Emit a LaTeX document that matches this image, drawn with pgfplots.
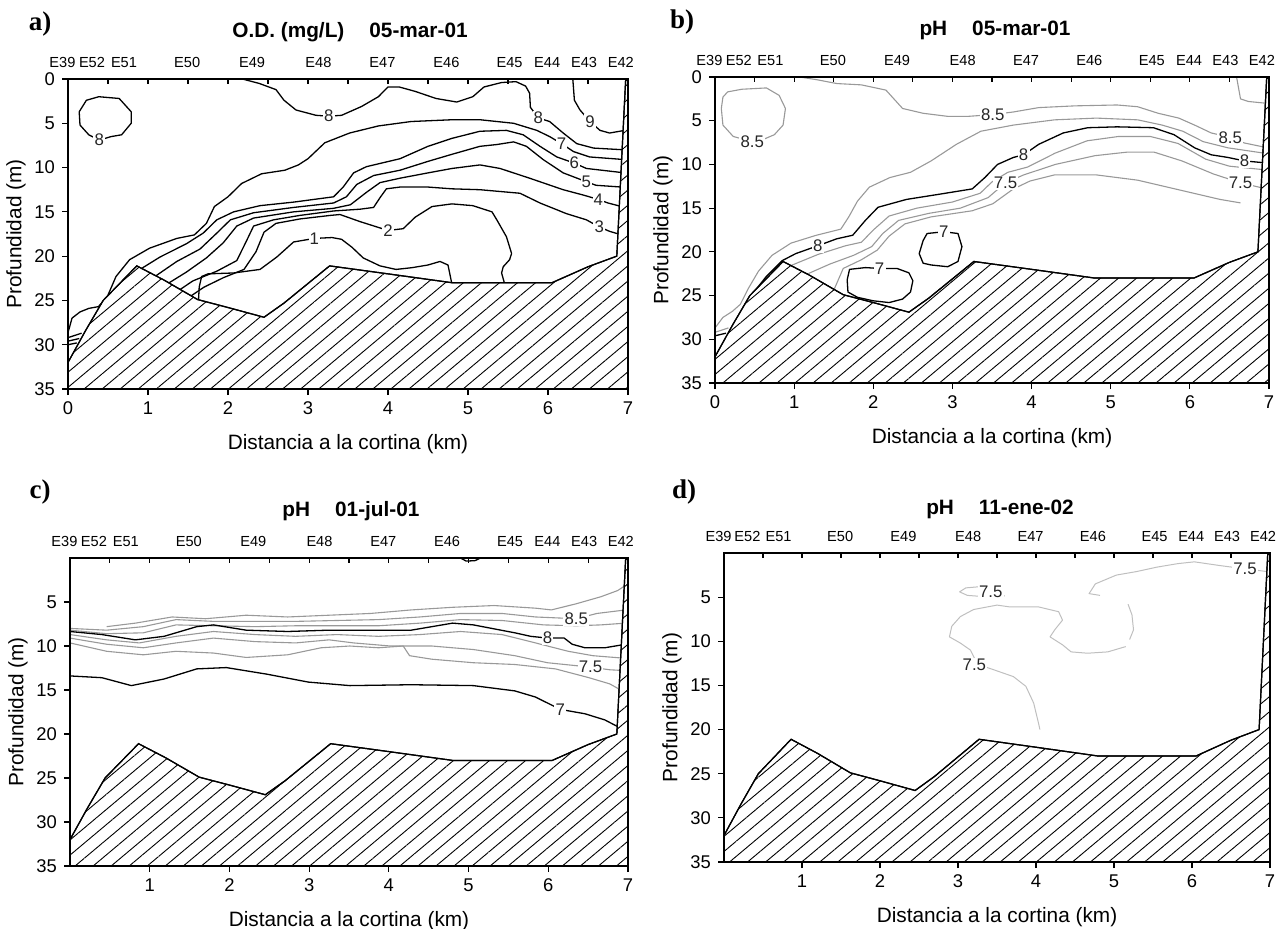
\documentclass[border=0pt]{standalone}
\usepackage{fontspec}
\setmainfont{Liberation Sans}
\newfontfamily\tnr{Liberation Serif}
\usepackage{pgfplots}
\pgfplotsset{compat=1.18}
\usetikzlibrary{patterns.meta}

\newcommand\fs[1]{\fontsize{#1}{#1}\selectfont}

\pgfplotsset{
  /pgf/number format/assume math mode=true,
  panel/.style={
    scale only axis, axis on top,
    xmin=0, xmax=7, ymin=0, ymax=35, y dir=reverse,
    axis line style={line width=0.7pt},
    tick pos=left, tick align=outside, major tick length=3pt,
    every tick/.style={black, line width=0.6pt},
    tick label style={font=\fs{9.2}},
    label style={font=\fs{10.4}},
    xlabel={Distancia a la cortina (km)},
    ylabel={Profundidad (m)},
    xlabel shift=3pt, ylabel shift=-2.5pt,
  },
  stations/.style={
    scale only axis, xmin=-0.1, xmax=7.1, ymin=0, ymax=1,
    hide y axis, axis x line*=top, axis line style={draw=none},
    xtick={0.5,1,...,6.5}, xticklabels={}, tick align=inside,
    major tick length=2.5pt, every tick/.style={black, line width=0.6pt},
    extra x ticks={-0.07,0.30,0.70,1.49,2.30,3.13,3.93,4.73,5.52,5.99,6.45,6.91},
    extra x tick labels={E39,E52,E51,E50,E49,E48,E47,E46,E45,E44,E43,E42},
    extra x tick style={major tick length=0pt,
      tick label style={font=\fs{7.3}, yshift=2pt}},
  },
  cl/.style={black, line width=0.65pt, mark=none, line join=round},
  gl/.style={black!40, line width=0.55pt, mark=none, line join=round},
  dl/.style={black!25, line width=0.5pt, mark=none, line join=round},
  bathy/.style={draw=black, line width=0.6pt, mark=none, fill=white,
    postaction={pattern={Lines[angle=40,distance=5.8pt,line width=0.45pt]}}},
}
\tikzset{clab/.style={fill=white, inner sep=0.6pt, text=black!85, font=\fs{8.4}}}

% bottom profile, same for every panel
\newcommand\bathy{\addplot[bathy] coordinates {(0,32) (0.22,28.4) (0.44,25.0)
  (0.86,21.1) (1.2,22.7) (1.62,24.9) (2.0,25.8) (2.45,26.9) (2.7,25.3) (3.27,21.1)
  (4.0,22.0) (4.8,23.0) (6.05,23.0) (6.5,21.2) (6.86,20.0) (6.97,0.2) (7,0)
  (7,35) (0,35)} -- cycle;}

\begin{document}
\begin{tikzpicture}
\path[use as bounding box] (0,0) rectangle (644pt,-464.5pt);

% ---------------- a) O.D. ----------------
\begin{axis}[panel, at={(34pt,-194.5pt)}, anchor=south west, width=280pt, height=155pt,
  xtick={0,...,7}, ytick={0,5,...,35}]
\addplot[cl] coordinates {(0.385,2.0)(0.64,2.2)(0.79,3.7)(0.79,5.0)(0.67,6.3)(0.54,6.5)
  (0.39,6.9)(0.26,6.3)(0.15,5.2)(0.14,3.7)(0.23,2.4)(0.385,2.0)};
\addplot[cl] coordinates {(2.18,0)(2.39,0.5)(2.6,1.2)(2.7,2.4)(2.85,3.5)(3.1,4.1)(3.26,4.2)
  (3.42,4.1)(3.67,3.1)(3.88,2.0)(4.0,0.9)(4.14,0.9)(4.34,1.4)(4.6,2.2)(4.86,2.6)(5.06,2.0)
  (5.2,0.9)(5.42,0.4)(5.6,0.3)(5.72,0.8)(5.77,1.6)(5.78,3.2)(5.88,4.4)(6.02,4.8)(6.19,6.1)
  (6.36,7.3)(6.57,7.8)(6.96,8.0)};
\addplot[cl] coordinates {(6.31,0)(6.33,2.4)(6.40,3.5)(6.525,4.8)(6.65,5.8)(6.77,6.1)(6.96,5.8)};
\addplot[cl] coordinates {(0,28.6)(0.02,28.0)(0.05,27.0)(0.15,26.3)(0.26,25.9)(0.38,25.7)
  (0.49,24.6)(0.6,22.3)(0.77,20.4)(1.02,19.1)(1.36,18.0)(1.58,17.6)(1.73,16.3)(1.83,14.4)
  (2.0,13.3)(2.17,11.8)(2.42,10.7)(2.71,10.3)(2.88,9.7)(3.0,9.0)(3.21,7.2)(3.52,6.1)
  (3.88,5.3)(4.29,4.8)(4.8,4.6)(5.15,4.6)(5.57,5.0)(5.86,5.8)(6.02,6.5)(6.17,7.3)(6.32,8.2)
  (6.52,8.8)(6.96,9.1)};
\addplot[cl] coordinates {(0.90,21.5)(1.15,20.1)(1.48,18.6)(1.69,17.4)(1.86,15.9)(2.07,15.0)
  (2.4,14.3)(2.82,13.9)(3.32,13.3)(3.44,12.2)(3.57,10.6)(3.73,9.9)(4.15,9.0)(4.5,7.6)(4.8,6.7)
  (5.15,5.9)(5.48,5.8)(5.69,6.3)(5.9,7.6)(6.11,8.8)(6.33,9.5)(6.48,10.1)(6.96,10.6)};
\addplot[cl] coordinates {(1.07,22.4)(1.36,20.6)(1.65,19.2)(1.86,17.4)(2.03,15.9)(2.32,15.1)
  (2.82,14.5)(3.32,14.0)(3.48,13.3)(3.61,11.9)(3.82,10.9)(4.15,10.3)(4.5,9.3)(4.8,8.5)
  (5.15,7.6)(5.36,7.4)(5.57,7.1)(5.73,7.6)(5.94,9.1)(6.19,10.6)(6.48,11.6)(6.6,12.0)(6.92,12.2)};
\addplot[cl] coordinates {(1.23,23.2)(1.48,21.8)(1.73,20.2)(1.94,18.5)(2.11,16.6)(2.32,15.7)
  (2.82,15.0)(3.32,14.6)(3.53,14.2)(3.73,12.8)(3.9,11.7)(4.15,11.2)(4.5,10.6)(4.8,10.1)
  (5.15,9.7)(5.4,10.1)(5.77,11.2)(6.19,12.5)(6.44,13.1)(6.63,13.6)(6.75,14.0)(6.92,14.4)};
\addplot[cl] coordinates {(1.38,23.9)(1.56,22.8)(1.86,21.7)(2.11,20.5)(2.23,18.3)(2.32,16.6)
  (2.57,15.9)(2.9,15.4)(3.32,14.9)(3.65,14.7)(3.82,14.5)(3.9,13.4)(3.98,12.4)(4.15,12.2)
  (4.5,12.2)(4.8,12.4)(5.15,12.5)(5.65,12.9)(5.9,14.0)(6.23,15.2)(6.48,15.9)(6.64,16.7)
  (6.77,17.2)(6.92,17.6)};
\addplot[cl] coordinates {(1.52,24.6)(1.7,23.5)(1.95,22.4)(2.2,21.5)(2.35,19.5)(2.45,17.3)
  (2.6,16.3)(2.9,15.8)(3.28,15.4)(3.4,15.3)(3.65,16.1)(3.86,16.7)(4.0,17.1)(4.19,16.9)
  (4.34,15.6)(4.55,14.4)(4.8,14.1)(5.06,14.3)(5.3,15.0)(5.36,15.9)(5.48,17.8)(5.545,19.7)
  (5.52,20.4)(5.44,21.2)(5.42,21.9)(5.46,23.2)};
\addplot[cl] coordinates {(1.63,25.2)(1.64,23.5)(1.67,22.3)(1.75,22.0)(2.07,21.9)(2.4,21.5)
  (2.61,20.1)(2.82,18.4)(3.08,18.0)(3.3,17.9)(3.42,18.1)(3.55,19.0)(3.69,20.2)(3.9,21.1)
  (4.1,21.5)(4.3,21.3)(4.5,21.0)(4.65,20.6)(4.75,21.0)(4.8,23.2)};
\addplot[cl] coordinates {(0,29.2)(0.17,28.7)};
\addplot[cl] coordinates {(0,29.6)(0.14,29.3)};
\addplot[cl] coordinates {(0,30.0)(0.11,29.8)};
\bathy
\node[clab] at (axis cs:0.39,6.9) {8};
\node[clab] at (axis cs:3.26,4.2) {8};
\node[clab] at (axis cs:5.88,4.4) {8};
\node[clab] at (axis cs:6.525,4.8) {9};
\node[clab] at (axis cs:6.17,7.3) {7};
\node[clab] at (axis cs:6.33,9.5) {6};
\node[clab] at (axis cs:6.48,11.6) {5};
\node[clab] at (axis cs:6.63,13.6) {4};
\node[clab] at (axis cs:6.64,16.7) {3};
\node[clab] at (axis cs:4.0,17.1) {2};
\node[clab] at (axis cs:3.08,18.0) {1};
\end{axis}
\begin{axis}[stations, at={(30pt,-194.5pt)}, anchor=south west, width=288pt, height=155pt]
\end{axis}

% ---------------- b) pH 05-mar-01 ----------------
\begin{axis}[panel, at={(357.5pt,-191.5pt)}, anchor=south west, width=277pt, height=153pt,
  xtick={0,...,7}, ytick={0,5,...,35}]
\addplot[gl] coordinates {(0.16,1.7)(0.34,1.4)(0.65,1.25)(0.81,2.1)(0.89,3.6)(0.86,5.5)
  (0.75,6.6)(0.62,7.1)(0.47,7.4)(0.23,6.8)(0.10,5.5)(0.08,3.6)(0.10,2.3)(0.16,1.7)};
\addplot[gl] coordinates {(1.07,0)(1.28,0.3)(1.54,0.75)(1.85,0.9)(2.16,1.5)(2.26,2.5)
  (2.37,3.6)(2.63,4.15)(2.94,4.5)(3.2,4.5)(3.51,4.3)(3.77,4.0)(4.09,3.5)(4.55,3.3)(5.08,3.2)
  (5.34,3.4)(5.6,4.15)(5.86,4.7)(6.06,5.5)(6.27,6.4)(6.51,6.9)(6.69,7.55)(6.93,8.0)};
\addplot[gl] coordinates {(6.59,0)(6.64,2.5)(6.74,2.8)(6.96,3.0)};
\addplot[gl] coordinates {(0,28.7)(0.1,27.5)(0.22,26.8)(0.32,26.0)(0.42,24.2)(0.55,22.2)
  (0.72,20.4)(0.96,19.0)(1.28,18.1)(1.59,17.4)(1.69,16.0)(1.8,14.2)(1.95,12.6)(2.21,11.5)
  (2.47,10.9)(2.73,9.6)(3.05,7.7)(3.36,6.2)(3.77,5.5)(4.29,4.9)(4.82,4.7)(5.34,4.9)
  (5.65,5.5)(5.91,6.2)(6.17,7.4)(6.48,8.1)(6.93,8.7)};
\addplot[cl] coordinates {(0.5,24.5)(0.65,22.8)(0.85,21.0)(1.02,20.2)(1.3,19.3)(1.54,18.5)
  (1.74,18.1)(1.9,16.4)(2.06,14.9)(2.42,14.0)(2.84,13.4)(3.25,12.8)(3.41,11.5)(3.57,10.0)
  (3.77,9.2)(3.9,8.9)(4.09,7.7)(4.4,6.4)(4.71,5.8)(5.08,5.7)(5.54,5.8)(5.8,6.6)(6.06,8.1)
  (6.27,8.9)(6.48,9.2)(6.69,9.6)(6.93,9.8)};
\addplot[gl] coordinates {(0.95,21.6)(1.3,20.3)(1.65,19.3)(1.85,18.9)(2.0,17.5)(2.2,15.9)
  (2.55,15.0)(3.0,14.3)(3.35,13.3)(3.5,12.0)(3.7,10.9)(3.95,10.3)(4.3,8.7)(4.7,7.3)(5.1,6.8)
  (5.5,6.8)(5.85,7.6)(6.2,9.4)(6.5,10.2)(6.93,10.6)};
\addplot[gl] coordinates {(1.15,22.6)(1.45,21.4)(1.75,20.4)(1.98,19.4)(2.12,17.9)(2.32,16.4)
  (2.7,15.6)(3.1,15.0)(3.45,13.8)(3.67,12.1)(3.9,11.2)(4.3,10.0)(4.8,9.0)(5.2,8.6)(5.55,8.6)
  (5.9,9.6)(6.3,11.1)(6.64,12.1)(6.92,12.7)};
\addplot[gl] coordinates {(1.5,24.4)(1.62,21.9)(1.85,20.9)(2.05,19.8)(2.2,18.2)(2.4,16.8)
  (2.73,16.0)(3.25,15.3)(3.51,14.5)(3.77,12.8)(3.98,11.9)(4.29,11.2)(4.82,11.2)(5.34,11.8)
  (5.86,12.9)(6.38,14.0)(6.64,14.4)};
\addplot[cl] coordinates {(1.70,22.0)(1.9,21.8)(2.08,21.9)(2.3,21.9)(2.45,22.4)(2.5,23.3)
  (2.47,24.6)(2.37,25.4)(2.2,25.8)(2.0,25.6)(1.8,25.2)(1.68,24.6)(1.67,23.2)(1.70,22.0)};
\addplot[cl] coordinates {(2.63,18.7)(2.68,17.9)(2.89,17.7)(3.07,17.9)(3.12,19.4)(3.07,21.1)
  (2.94,21.7)(2.73,21.5)(2.63,21.3)(2.58,20.2)(2.63,18.7)};
\addplot[gl] coordinates {(0,29.2)(0.17,28.7)};
\addplot[cl] coordinates {(0,29.6)(0.14,29.3)};
\bathy
\node[clab] at (axis cs:0.47,7.4) {8.5};
\node[clab] at (axis cs:3.51,4.3) {8.5};
\node[clab] at (axis cs:6.51,6.9) {8.5};
\node[clab] at (axis cs:1.3,19.3) {8};
\node[clab] at (axis cs:3.9,8.9) {8};
\node[clab] at (axis cs:6.69,9.6) {8};
\node[clab] at (axis cs:3.67,12.1) {7.5};
\node[clab] at (axis cs:6.64,12.1) {7.5};
\node[clab] at (axis cs:2.08,21.9) {7};
\node[clab] at (axis cs:2.89,17.7) {7};
\end{axis}
\begin{axis}[stations, at={(353.54pt,-191.5pt)}, anchor=south west, width=284.91pt, height=153pt]
\end{axis}

% ---------------- c) pH 01-jul-01 ----------------
\begin{axis}[panel, at={(35pt,-433pt)}, anchor=south west, width=279pt, height=154pt,
  xtick={1,...,7}, ytick={5,10,...,35}]
\addplot[gl] coordinates {(0.46,7.8)(0.82,7.4)(1.28,6.7)(1.7,6.9)(2.21,6.5)(2.73,6.7)
  (3.25,6.5)(3.77,6.3)(4.28,5.9)(4.8,5.6)(5.32,5.4)(5.84,5.7)(6.04,5.9)(6.35,5.2)(6.66,4.4)
  (6.87,3.7)(6.97,3.1)};
\addplot[gl] coordinates {(0,8.0)(0.46,8.2)(0.92,7.8)(1.33,7.0)(1.8,7.2)(2.32,7.2)(2.83,7.2)
  (3.35,7.1)(3.87,7.0)(4.39,6.7)(4.9,6.3)(5.42,6.3)(5.84,6.7)(6.35,6.9)(6.61,6.3)(6.97,5.9)};
\addplot[gl] coordinates {(0,8.2)(0.46,8.6)(0.92,8.5)(1.33,7.6)(1.8,7.7)(2.32,7.8)(2.83,7.7)
  (3.35,7.7)(3.87,7.7)(4.39,7.4)(4.9,7.0)(5.42,7.1)(5.94,7.6)(6.35,7.7)(6.66,7.6)(6.97,7.4)};
\addplot[gl] coordinates {(0,8.7)(0.46,9.3)(0.87,9.65)(1.33,8.9)(1.8,8.35)(2.32,8.7)(2.83,8.9)
  (3.35,8.7)(3.87,8.9)(4.39,8.7)(4.9,8.35)(5.42,8.7)(5.84,9.65)(6.25,10.6)(6.56,11.1)(6.97,11.4)};
\addplot[gl] coordinates {(0,9.1)(0.46,9.8)(0.92,10.2)(1.33,9.65)(1.8,9.1)(2.32,9.5)(2.83,9.65)
  (3.25,9.3)(3.56,9.65)(4.02,10.0)(4.54,10.0)(5.06,10.4)(5.58,11.1)(5.99,11.9)(6.53,12.4)
  (6.77,12.7)(6.97,12.8)};
\addplot[gl] coordinates {(0,9.65)(0.46,10.6)(0.92,11.0)(1.33,10.6)(1.8,10.8)(2.21,11.3)
  (2.73,11.0)(3.15,10.2)(3.51,10.0)(3.87,10.2)(4.18,10.0)(4.26,11.1)(4.54,11.5)(5.06,11.9)
  (5.58,12.1)(6.09,12.6)(6.51,13.6)(6.77,14.3)(6.95,15.2)};
\addplot[cl] coordinates {(0,8.35)(0.4,8.7)(0.82,9.3)(1.18,8.9)(1.59,7.8)(1.8,7.6)(2.21,8.2)
  (2.73,8.35)(3.25,8.2)(3.77,8.2)(4.28,8.2)(4.8,7.4)(5.06,7.6)(5.58,8.5)(5.78,8.9)(5.99,9.1)
  (6.2,9.1)(6.3,9.8)(6.46,10.2)(6.71,10.2)(6.97,9.8)};
\addplot[cl] coordinates {(0,13.4)(0.4,13.6)(0.77,14.5)(1.18,13.75)(1.59,12.6)(1.96,12.45)
  (2.47,13.2)(2.99,14.1)(3.51,14.5)(4.28,14.4)(5.06,14.5)(5.58,15.1)(5.84,15.8)(6.15,17.2)
  (6.46,17.7)(6.71,18.4)(6.9,19.3)};
\addplot[cl] coordinates {(4.9,0)(4.97,0.35)(5.08,0.3)(5.15,0)};
\bathy
\node[clab] at (axis cs:6.35,6.9) {8.5};
\node[clab] at (axis cs:5.99,9.1) {8};
\node[clab] at (axis cs:6.53,12.4) {7.5};
\node[clab] at (axis cs:6.15,17.2) {7};
\end{axis}
\begin{axis}[stations, at={(31.01pt,-433pt)}, anchor=south west, width=286.97pt, height=154pt]
\end{axis}

% ---------------- d) pH 11-ene-02 ----------------
\begin{axis}[panel, at={(362pt,-431pt)}, anchor=south west, width=273pt, height=154.5pt,
  xtick={1,...,7}, ytick={5,10,...,35}]
\addplot[dl] coordinates {(3.55,4.0)(3.3,3.8)(3.1,3.95)(3.02,4.4)(3.12,4.8)(3.35,4.95)(3.6,4.85)};
\addplot[dl] coordinates {(4.05,20.0)(4.03,19.2)(3.97,17.0)(3.87,15.1)(3.71,14.0)(3.45,13.2)
  (3.25,12.6)(3.16,11.0)(3.03,10.2)(2.89,9.5)(2.92,8.3)(3.03,7.2)(3.2,6.4)(3.5,5.9)(3.66,6.1)
  (4.03,6.1)(4.29,6.65)(4.34,7.6)(4.24,8.7)(4.18,9.5)(4.34,10.4)(4.45,11.2)(4.66,11.35)
  (4.92,11.2)(5.15,10.6)};
\addplot[dl] coordinates {(5.18,5.8)(5.23,7.0)(5.25,8.7)(5.2,9.8)};
\addplot[dl] coordinates {(4.82,4.8)(4.68,4.6)(4.71,4.2)(4.76,3.5)(5.03,2.5)(5.29,2.1)(5.55,1.6)
  (5.82,1.2)(6.03,1.0)(6.34,1.4)(6.68,1.8)(6.87,2.0)(6.96,2.1)};
\bathy
\node[clab] at (axis cs:3.42,4.4) {7.5};
\node[clab] at (axis cs:3.21,12.7) {7.5};
\node[clab] at (axis cs:6.68,1.8) {7.5};
\end{axis}
\begin{axis}[stations, at={(358.1pt,-431pt)}, anchor=south west, width=280.8pt, height=154.5pt]
\end{axis}

% titles and panel letters
\node[font=\bfseries\fs{10.4}] at (175pt,-16pt) {O.D. (mg/L)\hspace{1.2em}05-mar-01};
\node[font=\bfseries\fs{10.4}] at (497.5pt,-15pt) {pH\hspace{1.2em}05-mar-01};
\node[font=\bfseries\fs{10.4}] at (175.5pt,-255.5pt) {pH\hspace{1.2em}01-jul-01};
\node[font=\bfseries\fs{10.4}] at (500pt,-254.5pt) {pH\hspace{1.2em}11-ene-02};
\node[font=\tnr\bfseries\fs{13.5}] at (20pt,-12pt) {a)};
\node[font=\tnr\bfseries\fs{13.5}] at (341pt,-11pt) {b)};
\node[font=\tnr\bfseries\fs{13.5}] at (20pt,-246pt) {c)};
\node[font=\tnr\bfseries\fs{13.5}] at (342pt,-246pt) {d)};
\end{tikzpicture}
\end{document}
